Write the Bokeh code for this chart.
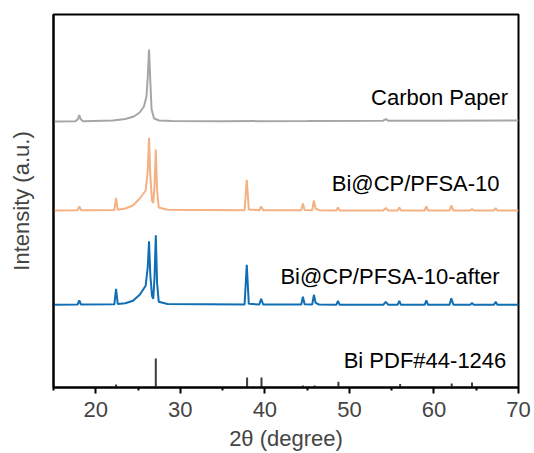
from bokeh.plotting import figure
from bokeh.models import Range1d, FixedTicker, Label
from bokeh.embed import file_html
from bokeh.resources import INLINE

# ---- data (2theta in degrees, intensity in arbitrary units above each trace's baseline) ----
cp_x = [15, 17.6, 17.9, 18.05, 18.2, 18.5, 22, 23.5, 24.5, 25.2, 25.7, 26.0, 26.15, 26.3,
        26.45, 26.6, 26.9, 27.5, 29, 35, 45, 54.0, 54.3, 54.6, 60, 70]
cp_y = [0, 0.3, 2.5, 6.5, 2.5, 0.3, 1, 2.5, 5, 9, 15, 25, 45, 72,
        40, 12, 3, 1, 0.6, 0.3, 0.5, 0.8, 2.3, 0.8, 0.8, 1.0]

bi_x = [15, 17.85, 18.05, 18.25, 22.2, 22.4, 22.6, 23.5, 24.4, 25.2, 25.9, 26.15, 26.3, 26.45,
        26.65, 26.8, 26.95, 27.1, 27.25, 27.45, 28.5, 37.6, 37.86, 38.1, 39.35, 39.56, 39.8,
        44.3, 44.5, 44.7, 45.6, 45.8, 46.0, 46.4, 48.45, 48.65, 48.85, 54.0, 54.3, 54.6,
        55.7, 55.9, 56.1, 58.9, 59.1, 59.3, 61.85, 62.05, 62.3, 64.3, 64.5, 64.7, 67.1, 67.3, 67.5, 70]
bi_y = [0, 0.3, 4, 0.3, 0.5, 12.7, 0.8, 2, 5, 12, 20, 40, 72.7, 35,
        10, 7.5, 25, 61, 20, 3, 0.8, 0.3, 30.7, 1, 0.3, 4, 0.3,
        0.2, 7, 0.5, 0.3, 10, 2, 0.3, 0, 3, 0, 0, 2.5, 0,
        0, 3, 0, 0, 4, 0, 0, 5, 0, 0, 1.5, 0, 0, 2.5, 0, 0]

after_x = bi_x
after_y = [0, 0.3, 4.3, 0.3, 0.5, 16, 0.8, 1.5, 4, 10, 19, 38, 63.6, 30,
           9, 6, 28, 69.6, 22, 3, 0.8, 0.3, 40, 1, 0.3, 6, 0.3,
           0.2, 8, 0.5, 0.3, 10, 2, 0.3, 0, 4, 0, 0, 3, 0,
           0, 4, 0, 0, 4.5, 0, 0, 6.6, 0, 0, 2, 0, 0, 3, 0, 0]

pdf_x = [22.4, 27.1, 37.9, 39.6, 44.5, 45.9, 48.7, 56.0, 62.1, 64.5]
pdf_h = [3, 29, 10, 10, 2, 2, 5.7, 3.5, 4, 5]

offsets = {"cp": 266, "bi": 177, "after": 82.7, "pdf": 0}
labels = ["Carbon Paper", "Bi@CP/PFSA-10", "Bi@CP/PFSA-10-after", "Bi PDF#44-1246"]
x_ticks = [20, 30, 40, 50, 60, 70]
x_minor = [15, 25, 35, 45, 55, 65]

FONT = "Liberation Sans"
FS = "22px"

p = figure(width=534, height=453, output_backend="svg", toolbar_location=None,
           x_range=Range1d(15, 70), y_range=Range1d(0, 373),
           min_border_left=53, min_border_right=16, min_border_top=14, min_border_bottom=66)
p.grid.visible = False
p.outline_line_color = "black"
p.outline_line_width = 2
p.background_fill_color = "white"
p.border_fill_color = "white"

p.line(cp_x, [v + offsets["cp"] for v in cp_y], line_color="#A6A6A6", line_width=2)
p.line(bi_x, [v + offsets["bi"] for v in bi_y], line_color="#F4B183", line_width=2)
p.line(after_x, [v + offsets["after"] for v in after_y], line_color="#0F6EB4", line_width=2)
p.segment(x0=pdf_x, y0=[offsets["pdf"]] * len(pdf_x), x1=pdf_x,
          y1=[h + offsets["pdf"] for h in pdf_h], line_color="#3C3C3C", line_width=2)

lab_pos = [(68.76, 290), (67.76, 204), (67.76, 111.5), (68.56, 27)]
for t, (lx, ly) in zip(labels, lab_pos):
    p.add_layout(Label(x=lx, y=ly, text=t, text_align="right", text_baseline="alphabetic",
                       text_font=FONT, text_font_size=FS, text_color="black"))

xa = p.xaxis[0]
xa.ticker = FixedTicker(ticks=x_ticks, minor_ticks=x_minor)
xa.axis_line_width = 2
xa.major_tick_line_width = 2
xa.minor_tick_line_width = 2
xa.major_tick_out = 6
xa.major_tick_in = 0
xa.minor_tick_out = 3
xa.minor_tick_in = 0
xa.major_label_text_font = FONT
xa.major_label_text_font_size = FS
xa.major_label_standoff = 8
xa.axis_label = "2θ (degree)"
xa.axis_label_text_font = FONT
xa.axis_label_text_font_size = FS
xa.axis_label_text_font_style = "normal"
xa.axis_label_standoff = 6

ya = p.yaxis[0]
ya.ticker = FixedTicker(ticks=[])
ya.axis_line_width = 2
ya.major_tick_out = 0
ya.minor_tick_out = 0
ya.axis_label = "Intensity (a.u.)"
ya.axis_label_text_font = FONT
ya.axis_label_text_font_size = FS
ya.axis_label_text_font_style = "normal"
ya.axis_label_standoff = 20

open("out.html", "w").write(file_html(p, INLINE))
